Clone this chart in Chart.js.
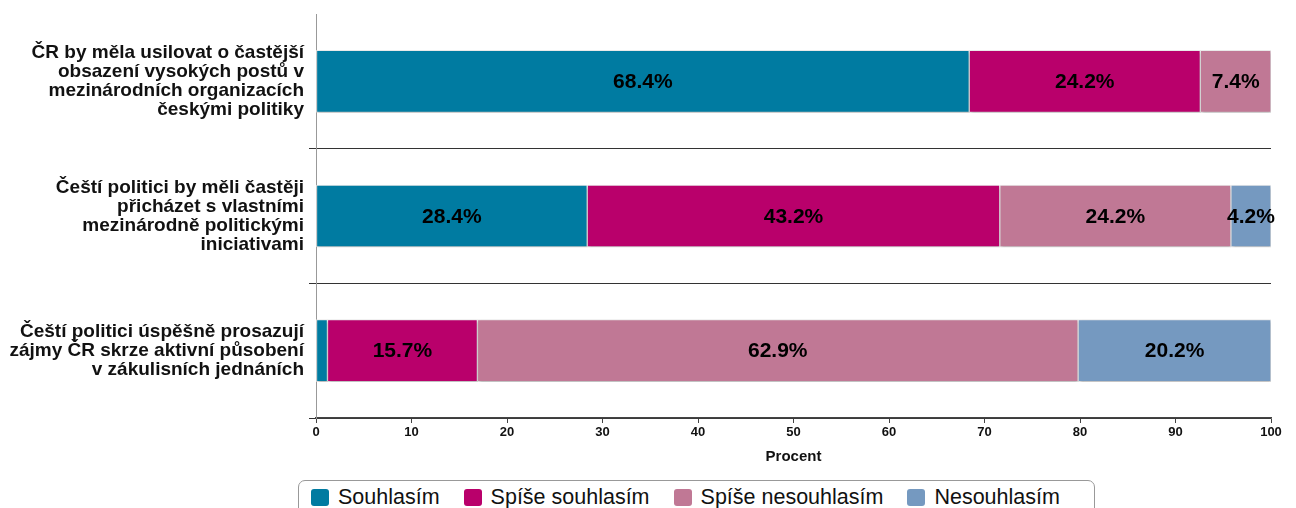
<!DOCTYPE html>
<html>
<head>
<meta charset="utf-8">
<script src="https://cdn.jsdelivr.net/npm/chart.js@4.4.0/dist/chart.umd.min.js"></script>
<style>
    body { margin: 0; background: #fff; }
    #wrap { position: relative; width: 1296px; height: 508px; overflow: hidden; }
    #legend {
        position: absolute; left: 298px; top: 480px; width: 797px; height: 40px;
        border: 1px solid #999; border-radius: 7px; background: #fff;
        display: flex; align-items: flex-start; padding-top: 4px; padding-left: 12px; box-sizing: border-box;
        font-family: "Liberation Sans", Arial, sans-serif; font-size: 21.5px; color: #111;
    }
    #legend .item { display: flex; align-items: center; margin-right: 24px; }
    #legend .box { width: 18px; height: 17px; border-radius: 3px; margin-right: 9px; }
</style>
</head>
<body>
<div id="wrap">
    <canvas id="myChart"></canvas>
    <div id="legend"></div>
</div>
<script>
const categories = [
    ['ČR by měla usilovat o častější', 'obsazení vysokých postů v', 'mezinárodních organizacích', 'českými politiky'],
    ['Čeští politici by měli častěji', 'přicházet s vlastními', 'mezinárodně politickými', 'iniciativami'],
    ['Čeští politici úspěšně prosazují', 'zájmy ČR skrze aktivní působení', 'v zákulisních jednáních']
];
const seriesNames = ['Souhlasím', 'Spíše souhlasím', 'Spíše nesouhlasím', 'Nesouhlasím'];
const souhlasim = [68.4, 28.4, 1.2];
const spiseSouhlasim = [24.2, 43.2, 15.7];
const spiseNesouhlasim = [7.4, 24.2, 62.9];
const nesouhlasim = [0, 4.2, 20.2];
const seriesColors = ['#007ba1', '#b9006b', '#c07895', '#7599c0'];

const seriesValues = [souhlasim, spiseSouhlasim, spiseNesouhlasim, nesouhlasim];

// stin pod sloupci
const shadowPlugin = {
    id: 'barShadow',
    beforeDatasetsDraw(chart) {
        const ctx = chart.ctx;
        ctx.save();
        ctx.shadowColor = 'rgba(0,0,0,0.22)';
        ctx.shadowOffsetX = 1;
        ctx.shadowOffsetY = 2;
        ctx.shadowBlur = 3;
    },
    afterDatasetsDraw(chart) {
        chart.ctx.restore();
    }
};

// popisky hodnot uprostred segmentu
const valueLabels = {
    id: 'valueLabels',
    afterDatasetsDraw(chart) {
        const ctx = chart.ctx;
        ctx.save();
        ctx.font = 'bold 21px "Liberation Sans", Arial, sans-serif';
        ctx.fillStyle = '#000';
        ctx.textAlign = 'center';
        ctx.textBaseline = 'middle';
        chart.data.datasets.forEach((ds, di) => {
            const meta = chart.getDatasetMeta(di);
            meta.data.forEach((bar, i) => {
                const v = ds.data[i];
                if (v < 3) return;
                const cx = (bar.x + bar.base) / 2;
                ctx.fillText(v.toFixed(1) + '%', cx, bar.y + 1);
            });
        });
        ctx.restore();
    }
};

const ctx = document.getElementById('myChart').getContext('2d');
const chart = new Chart(ctx, {
    type: 'bar',
    data: {
        labels: categories,
        datasets: seriesNames.map((name, i) => ({
            label: name,
            data: seriesValues[i],
            backgroundColor: seriesColors[i],
            borderColor: '#ececec',
            borderWidth: 1,
            borderSkipped: false,
            barThickness: 62
        }))
    },
    options: {
        indexAxis: 'y',
        responsive: true,
        maintainAspectRatio: false,
        animation: false,
        layout: { padding: { top: 14, right: 25, bottom: 42, left: 0 } },
        plugins: {
            legend: { display: false },
            tooltip: { enabled: false }
        },
        scales: {
            x: {
                stacked: true,
                min: 0,
                max: 100,
                ticks: {
                    stepSize: 10,
                    color: '#111',
                    padding: 2,
                    font: { family: '"Liberation Sans", Arial, sans-serif', size: 13, weight: 'bold' }
                },
                grid: { drawOnChartArea: false, drawTicks: true, tickLength: 5, color: '#444' },
                border: { display: true, color: '#444', width: 1.5 },
                title: {
                    display: true,
                    text: 'Procent',
                    color: '#111',
                    padding: { top: 0, bottom: 0 },
                    font: { family: '"Liberation Sans", Arial, sans-serif', size: 15, weight: 'bold' }
                },
                afterFit(scale) {
                    scale.height = 48;
                    scale.paddingLeft = 0;
                    scale.paddingRight = 0;
                }
            },
            y: {
                stacked: true,
                offset: true,
                ticks: {
                    color: '#111',
                    padding: 5,
                    font: { family: '"Liberation Sans", Arial, sans-serif', size: 19, weight: 'bold', lineHeight: 1.0 }
                },
                grid: {
                    offset: true,
                    tickLength: 7,
                    color: (c) => c.index === 0 ? 'rgba(0,0,0,0)' : '#333'
                },
                border: { display: true, color: '#999' },
                afterFit(scale) {
                    scale.width = 316;
                    scale.paddingTop = 0;
                    scale.paddingBottom = 0;
                }
            }
        }
    },
    plugins: [shadowPlugin, valueLabels]
});

// legenda v ramecku dole
const legendEl = document.getElementById('legend');
chart.data.datasets.forEach(ds => {
    const item = document.createElement('div');
    item.className = 'item';
    item.innerHTML = `<span class="box" style="background:${ds.backgroundColor}"></span><span>${ds.label}</span>`;
    legendEl.appendChild(item);
});
</script>
</body>
</html>
